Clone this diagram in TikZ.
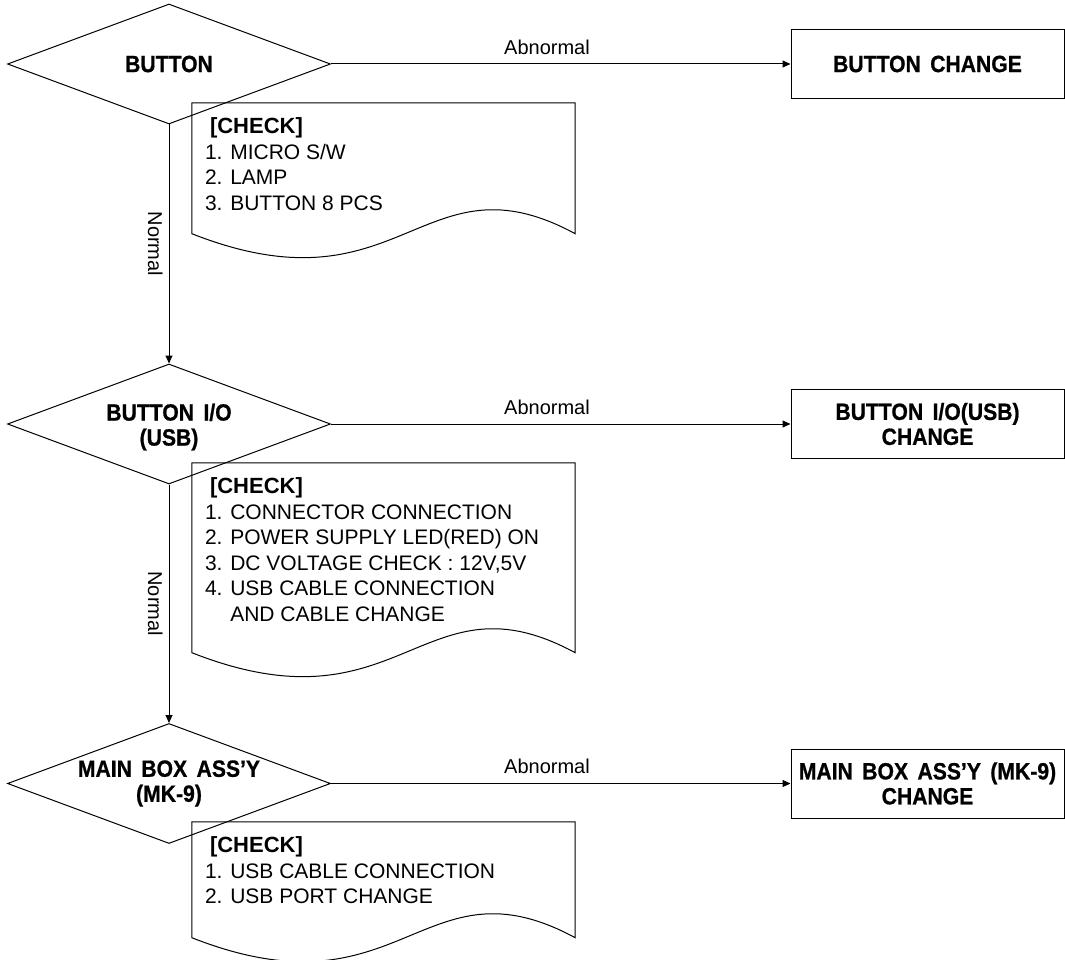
\documentclass[tikz,border=0pt]{standalone}
\usepackage{fontspec}
\setmainfont{Liberation Sans}
\newfontfamily\hdfont{Liberation Sans}[FakeStretch=0.9,WordSpace=1.6,BoldFeatures={FakeBold=0.8}]
\usetikzlibrary{shapes.geometric,arrows.meta,calc}
\newcommand\ckfont{\bfseries\fontsize{22}{25.5}\selectfont}
\newcommand\docoutline[1]{%
  \draw[ln] (#1.south west) -- (#1.north west) -- (#1.north east) -- (#1.south east)
    .. controls ($(#1.south west)!0.6!(#1.south east)+(0,-83)$) and ($(#1.south west)!0.55!(#1.south east)+(0,83)$) .. (#1.south west) -- cycle;}
\begin{document}
\begin{tikzpicture}[x=1pt,y=-1pt,
  ln/.style={line width=1pt,draw=black},
  arr/.style={ln,-{Triangle[length=8pt,width=7pt]}},
  dia/.style={ln,shape=diamond,minimum width=323pt,minimum height=120pt,inner sep=0pt},
  dlbl/.style={font=\hdfont\bfseries\fontsize{23.5}{25}\selectfont,align=center,inner sep=0pt},
  chg/.style={ln,rectangle,minimum width=273pt,minimum height=69pt,inner sep=0pt,
    font=\hdfont\bfseries\fontsize{23.5}{25}\selectfont,align=center},
  docbox/.style={rectangle,minimum width=383pt,inner sep=0pt},
  doctext/.style={font=\fontsize{21}{25.5}\selectfont,align=left,anchor=north west,inner sep=0pt},
  yn/.style={font=\fontsize{20}{24}\selectfont,inner sep=0pt}
]
\useasboundingbox (0,0) rectangle (1065,960);

% decisions
\node[dia, label={[dlbl]center:BUTTON}] (q1) at (169,64) {};
\node[dia, label={[dlbl,yshift=-3pt]center:{BUTTON I/O\\(USB)}}] (q2) at (169,424) {};
\node[dia, label={[dlbl]center:{MAIN BOX ASS’Y\\(MK-9)}}] (q3) at (169,783.5) {};

% change boxes
\node[chg] (r1) at (927.5,64) {BUTTON CHANGE};
\node[chg] (r2) at (927.5,424) {BUTTON I/O(USB)\\CHANGE};
\node[chg] (r3) at (927.5,783.5) {MAIN BOX ASS’Y (MK-9)\\CHANGE};

% check documents
\node[docbox, minimum height=130.5pt] (d1) at (383.5,168.25) {};
\node[docbox, minimum height=189.5pt] (d2) at (383.5,557.75) {};
\node[docbox, minimum height=115.5pt] (d3) at (383.5,879.75) {};
\docoutline{d1}
\docoutline{d2}
\docoutline{d3}

\node[doctext] (t1) at ($(d1.north west)+(13,15)$)
  {\hspace*{5pt}{\ckfont [CHECK]}\\1. MICRO S/W\\2. LAMP\\3. BUTTON 8 PCS};
\node[doctext] (t2) at ($(d2.north west)+(13,15)$)
  {\hspace*{5pt}{\ckfont [CHECK]}\\1. CONNECTOR CONNECTION\\2. POWER SUPPLY LED(RED) ON\\3. DC VOLTAGE CHECK : 12V,5V\\4. USB CABLE CONNECTION\\\phantom{4. }AND CABLE CHANGE};
\node[doctext] (t3) at ($(d3.north west)+(13,15)$)
  {\hspace*{5pt}{\ckfont [CHECK]}\\1. USB CABLE CONNECTION\\2. USB PORT CHANGE};

% connectors
\draw[arr] (q1.east) -- node[yn, above=9pt, pos=0.47] (a1) {Abnormal} (r1.west);
\draw[arr] (q2.east) -- node[yn, above=9pt, pos=0.47] (a2) {Abnormal} (r2.west);
\draw[arr] (q3.east) -- node[yn, above=9pt, pos=0.47] (a3) {Abnormal} (r3.west);
\draw[arr] (q1.south) -- node[yn, midway, rotate=-90, anchor=north, inner sep=6pt] (n1) {Normal} (q2.north);
\draw[arr] (q2.south) -- node[yn, midway, rotate=-90, anchor=north, inner sep=6pt] (n2) {Normal} (q3.north);
\end{tikzpicture}
\end{document}
